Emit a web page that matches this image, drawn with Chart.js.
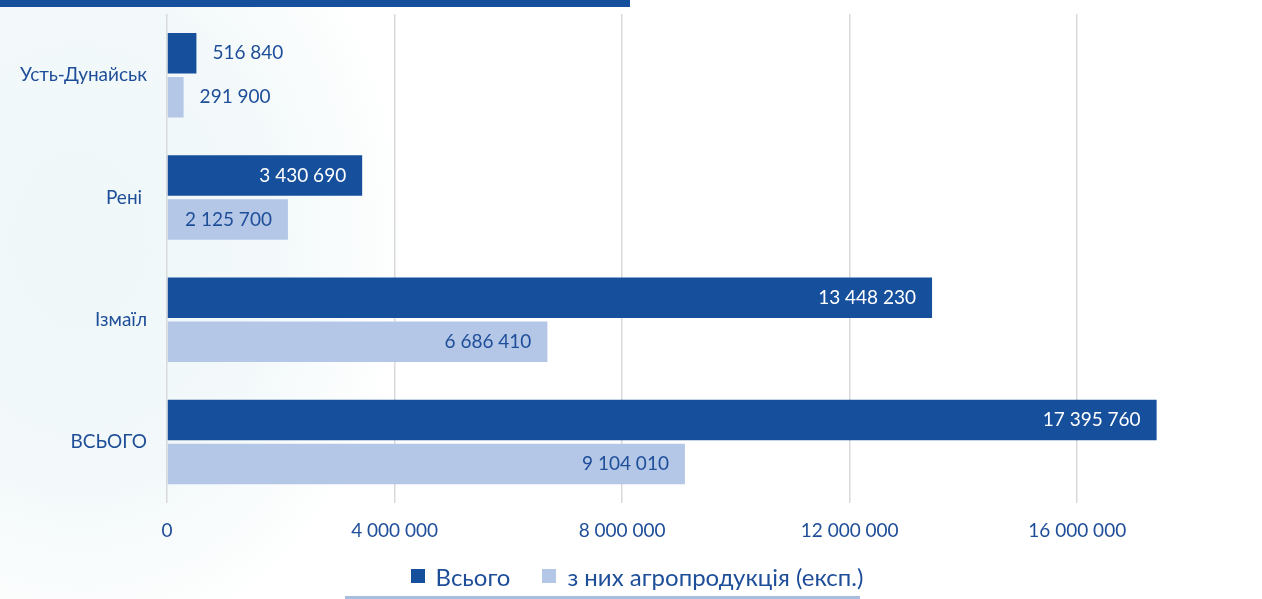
<!DOCTYPE html>
<html>
<head>
<meta charset="utf-8">
<script src="https://cdn.jsdelivr.net/npm/chart.js@4.4.0/dist/chart.umd.min.js"></script>
<style>
  html, body { margin: 0; padding: 0; background: #fff; }
  #wrap {
    position: relative; width: 1262px; height: 599px; overflow: hidden;
    background: radial-gradient(ellipse 330px 420px at 80px 240px, #eff7f9 0%, #f3f9fa 60%, rgba(255,255,255,0) 100%);
    font-family: Lato, "Open Sans", sans-serif;
  }
  #topbar { position: absolute; left: 0; top: 0; width: 630px; height: 7px; background: #164f9c; }
  #botline { position: absolute; left: 345px; top: 596px; width: 515px; height: 3px; background: #a9bedf; }
  canvas { position: absolute; left: 0; top: 0; }
  #legend {
    position: absolute; left: 0; width: 1274px; top: 561px; height: 30px;
    display: flex; justify-content: center; align-items: center;
    font-size: 24px; color: #1f4e99; white-space: nowrap;
  }
  #legend .item { display: flex; align-items: center; margin: 0 16px; }
  #legend .box { width: 14px; height: 14px; margin-right: 11px; }
</style>
</head>
<body>
<div id="wrap">
  <div id="topbar"></div>
  <canvas id="myChart" width="1262" height="599"></canvas>
  <div id="legend"></div>
  <div id="botline"></div>
</div>
<script>
const labels = ["Усть-Дунайськ", "Рені ", "Ізмаїл", "ВСЬОГО"];
const totalValues = [516840, 3430690, 13448230, 17395760];
const agroValues = [291900, 2125700, 6686410, 9104010];
const seriesNames = ["Всього", "з них агропродукція (експ.)"];
const xTickValues = [0, 4000000, 8000000, 12000000, 16000000];

const textColor = '#1f4e99';
const darkBlue = '#164f9c';
const lightBlue = '#b4c7e7';
const fontFamily = 'Lato, "Open Sans", sans-serif';

function fmt(v) {
    return String(v).replace(/\B(?=(\d{3})+(?!\d))/g, ' ');
}

// value labels: inside the bar end when it fits, otherwise just past it
const valueLabels = {
    id: 'valueLabels',
    afterDatasetsDraw(chart) {
        const ctx = chart.ctx;
        ctx.save();
        ctx.font = '19px ' + fontFamily;
        ctx.textBaseline = 'middle';
        chart.data.datasets.forEach((ds, di) => {
            const meta = chart.getDatasetMeta(di);
            meta.data.forEach((bar, i) => {
                const txt = fmt(ds.data[i]);
                const w = ctx.measureText(txt).width;
                const barW = bar.x - bar.base;
                const pad = 16;
                if (w + pad * 2 < barW) {
                    ctx.textAlign = 'right';
                    ctx.fillStyle = di === 0 ? '#ffffff' : textColor;
                    ctx.fillText(txt, bar.x - pad, bar.y);
                } else {
                    ctx.textAlign = 'left';
                    ctx.fillStyle = textColor;
                    ctx.fillText(txt, bar.x + pad, bar.y);
                }
            });
        });
        ctx.restore();
    }
};

const data = {
    labels: labels,
    datasets: [{
        label: seriesNames[0],
        data: totalValues,
        backgroundColor: darkBlue,
        categoryPercentage: 0.72,
        barPercentage: 0.92
    }, {
        label: seriesNames[1],
        data: agroValues,
        backgroundColor: lightBlue,
        categoryPercentage: 0.72,
        barPercentage: 0.92
    }]
};

const config = {
    type: 'bar',
    data: data,
    options: {
        indexAxis: 'y',
        responsive: false,
        animation: false,
        layout: { padding: { left: 8, right: 71, top: 14, bottom: 41 } },
        scales: {
            x: {
                min: 0,
                max: 18000000,
                ticks: {
                    color: textColor,
                    font: { family: fontFamily, size: 19 },
                    padding: 16,
                    maxRotation: 0,
                    autoSkip: false,
                    callback: (v) => fmt(v)
                },
                afterBuildTicks: (scale) => {
                    scale.ticks = xTickValues.map(v => ({ value: v }));
                },
                grid: { color: '#d9d9d9', lineWidth: 1.5, drawTicks: false },
                border: { display: false }
            },
            y: {
                ticks: {
                    color: textColor,
                    font: { family: fontFamily, size: 19 },
                    padding: 12
                },
                afterFit: (scale) => {
                    scale.paddingTop = 0;
                    scale.paddingBottom = 0;
                },
                grid: { display: false },
                border: { display: false }
            }
        },
        plugins: {
            legend: { display: false },
            tooltip: { enabled: false }
        }
    },
    plugins: [valueLabels]
};

const myChart = new Chart(document.getElementById('myChart'), config);

// legend built from the chart's own datasets
const legendEl = document.getElementById('legend');
myChart.data.datasets.forEach(ds => {
    const item = document.createElement('span');
    item.className = 'item';
    const box = document.createElement('span');
    box.className = 'box';
    box.style.background = ds.backgroundColor;
    item.appendChild(box);
    item.appendChild(document.createTextNode(ds.label));
    legendEl.appendChild(item);
});
</script>
</body>
</html>
